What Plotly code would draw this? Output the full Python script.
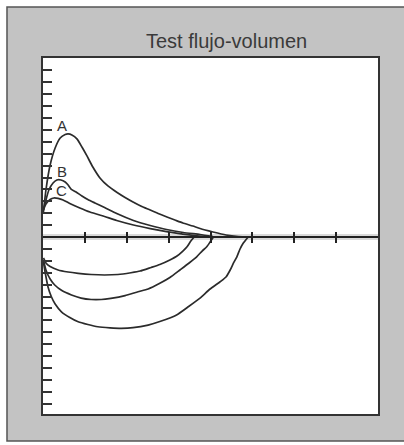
import plotly.graph_objects as go

# ---- data (volume on x, flow on y) ----
a_vol = [0.01, 0.07, 0.17, 0.29, 0.41, 0.53, 0.60, 0.69, 0.81, 0.93, 1.05, 1.19, 1.36, 1.55, 1.77, 1.96,
         2.15, 2.36, 2.56, 2.75, 2.96, 3.15, 3.34, 3.58, 3.75, 4.06, 4.37, 4.66, 4.94]
a_flow = [2.10, 3.95, 6.05, 7.48, 8.32, 8.61, 8.66, 8.57, 8.24, 7.56, 6.81, 5.88, 4.96, 4.29, 3.74, 3.32,
          2.94, 2.56, 2.27, 1.97, 1.68, 1.43, 1.18, 0.92, 0.71, 0.42, 0.17, 0.04, 0.0]

b_vol = [0.01, 0.07, 0.14, 0.24, 0.33, 0.43, 0.53, 0.60, 0.67, 0.79, 0.93, 1.07, 1.24, 1.47, 1.76, 2.16,
         2.56, 2.95, 3.35, 3.75, 4.06]
b_flow = [2.27, 3.11, 3.95, 4.54, 4.79, 4.79, 4.62, 4.37, 4.03, 3.78, 3.45, 3.15, 2.86, 2.48, 1.97, 1.39,
          0.97, 0.63, 0.38, 0.21, 0.04]

c_vol = [0.01, 0.07, 0.17, 0.26, 0.36, 0.48, 0.64, 0.88, 1.12, 1.47, 1.76, 2.16, 2.56, 2.95, 3.34, 3.68, 4.06]
c_flow = [2.27, 2.77, 3.15, 3.28, 3.24, 3.11, 2.82, 2.44, 2.10, 1.72, 1.39, 1.01, 0.71, 0.46, 0.25, 0.10, 0.0]

i1_vol = [0.01, 0.07, 0.17, 0.36, 0.60, 0.84, 1.15, 1.47, 1.79, 2.10, 2.32, 2.58, 2.79, 3.03, 3.20, 3.34,
          3.44, 3.53, 3.61]
i1_flow = [-1.76, -2.18, -2.48, -2.77, -2.94, -3.05, -3.15, -3.19, -3.15, -3.00, -2.86, -2.56, -2.31, -1.93,
           -1.60, -1.18, -0.82, -0.34, 0.0]

i2_vol = [0.01, 0.07, 0.17, 0.28, 0.45, 0.68, 0.91, 1.15, 1.39, 1.62, 1.96, 2.27, 2.51, 2.79, 3.03, 3.27,
          3.49, 3.67, 3.80, 3.91, 3.99, 4.07]
i2_flow = [-1.93, -2.77, -3.53, -4.03, -4.50, -4.87, -5.13, -5.25, -5.25, -5.15, -4.92, -4.60, -4.37, -3.89,
           -3.40, -2.77, -2.18, -1.66, -1.18, -0.82, -0.42, 0.0]

i3_vol = [0.01, 0.05, 0.12, 0.20, 0.29, 0.44, 0.64, 0.84, 1.07, 1.31, 1.60, 1.87, 2.15, 2.51, 2.79, 3.19,
          3.46, 3.75, 3.99, 4.23, 4.37, 4.47, 4.55, 4.63, 4.70, 4.78, 4.90]
i3_flow = [-2.10, -2.94, -4.20, -5.02, -5.63, -6.28, -6.76, -7.12, -7.35, -7.54, -7.63, -7.67, -7.62, -7.40,
           -7.10, -6.55, -5.88, -5.13, -4.37, -3.76, -3.36, -2.77, -2.18, -1.66, -1.05, -0.53, 0.0]

curve_labels = ["A", "B", "C"]
label_vol = [0.45, 0.45, 0.45]
label_flow = [9.39, 5.49, 3.87]

x_ticks = [1, 2, 3, 4, 5, 6, 7]
y_ticks = [v for v in range(-14, 15) if v != 0]

title_text = "Test flujo-volumen"

# ---- figure ----
LINE = "#2b2b2b"
fig = go.Figure()
for xs, ys in [(a_vol, a_flow), (b_vol, b_flow), (c_vol, c_flow),
               (i1_vol, i1_flow), (i2_vol, i2_flow), (i3_vol, i3_flow)]:
    fig.add_trace(go.Scatter(x=xs, y=ys, mode="lines",
                             line=dict(color=LINE, width=1.7, shape="spline", smoothing=0.5),
                             hoverinfo="skip", showlegend=False))

# dummy traces to activate the zero-line axes
fig.add_trace(go.Scatter(x=[None], y=[None], xaxis="x2", yaxis="y", showlegend=False))
fig.add_trace(go.Scatter(x=[None], y=[None], xaxis="x3", yaxis="y", showlegend=False))

for lab, xv, yv in zip(curve_labels, label_vol, label_flow):
    fig.add_annotation(x=xv, y=yv, text=lab, showarrow=False, xanchor="center", yanchor="middle",
                       font=dict(family="Liberation Sans, Arial, sans-serif", size=15, color="#333"))

fig.add_annotation(x=0.549, y=1.0478, xref="paper", yref="paper", text=title_text, showarrow=False,
                   xanchor="center", yanchor="middle",
                   font=dict(family="Liberation Sans, Arial, sans-serif", size=20, color="#3a3a3a"))

# gray outer frame and white plot panel
fig.add_shape(type="rect", xref="paper", yref="paper", x0=-0.1075, x1=1.12, y0=-0.0758, y1=1.1433,
              fillcolor="#c3c3c3", line=dict(color="#555", width=1.5), layer="below")
fig.add_shape(type="rect", xref="paper", yref="paper", x0=0, x1=1, y0=0, y1=1,
              fillcolor="white", line=dict(width=0), layer="below")

zero_pos = 14.87 / (14.87 + 15.04)
common_x = dict(range=[0, 8], showgrid=False, zeroline=False, showticklabels=False, fixedrange=True)

fig.update_layout(
    width=404, height=445,
    margin=dict(l=43, r=26, t=58, b=31),
    paper_bgcolor="white", plot_bgcolor="white",
    xaxis=dict(**common_x, showline=True, linecolor="#333", linewidth=2, mirror=True, ticks=""),
    xaxis2=dict(**common_x, overlaying="x", anchor="free", position=zero_pos, side="bottom",
                showline=True, linecolor="#222", linewidth=2,
                tickmode="array", tickvals=x_ticks, ticks="outside", ticklen=5, tickwidth=2, tickcolor="#222"),
    xaxis3=dict(**common_x, overlaying="x", anchor="free", position=zero_pos, side="bottom",
                showline=False,
                tickmode="array", tickvals=x_ticks, ticks="inside", ticklen=5, tickwidth=2, tickcolor="#222"),
    yaxis=dict(range=[-14.87, 15.04], showgrid=False, showticklabels=False, fixedrange=True,
               zeroline=True, zerolinecolor="#dadada", zerolinewidth=6,
               showline=True, linecolor="#333", linewidth=2, mirror=True,
               tickmode="array", tickvals=y_ticks, ticks="inside", ticklen=9, tickwidth=2, tickcolor="#333"),
)

fig.write_html("out.html", config={"displayModeBar": False},
               post_script="document.body.style.margin='0px';document.body.style.overflow='hidden';")
